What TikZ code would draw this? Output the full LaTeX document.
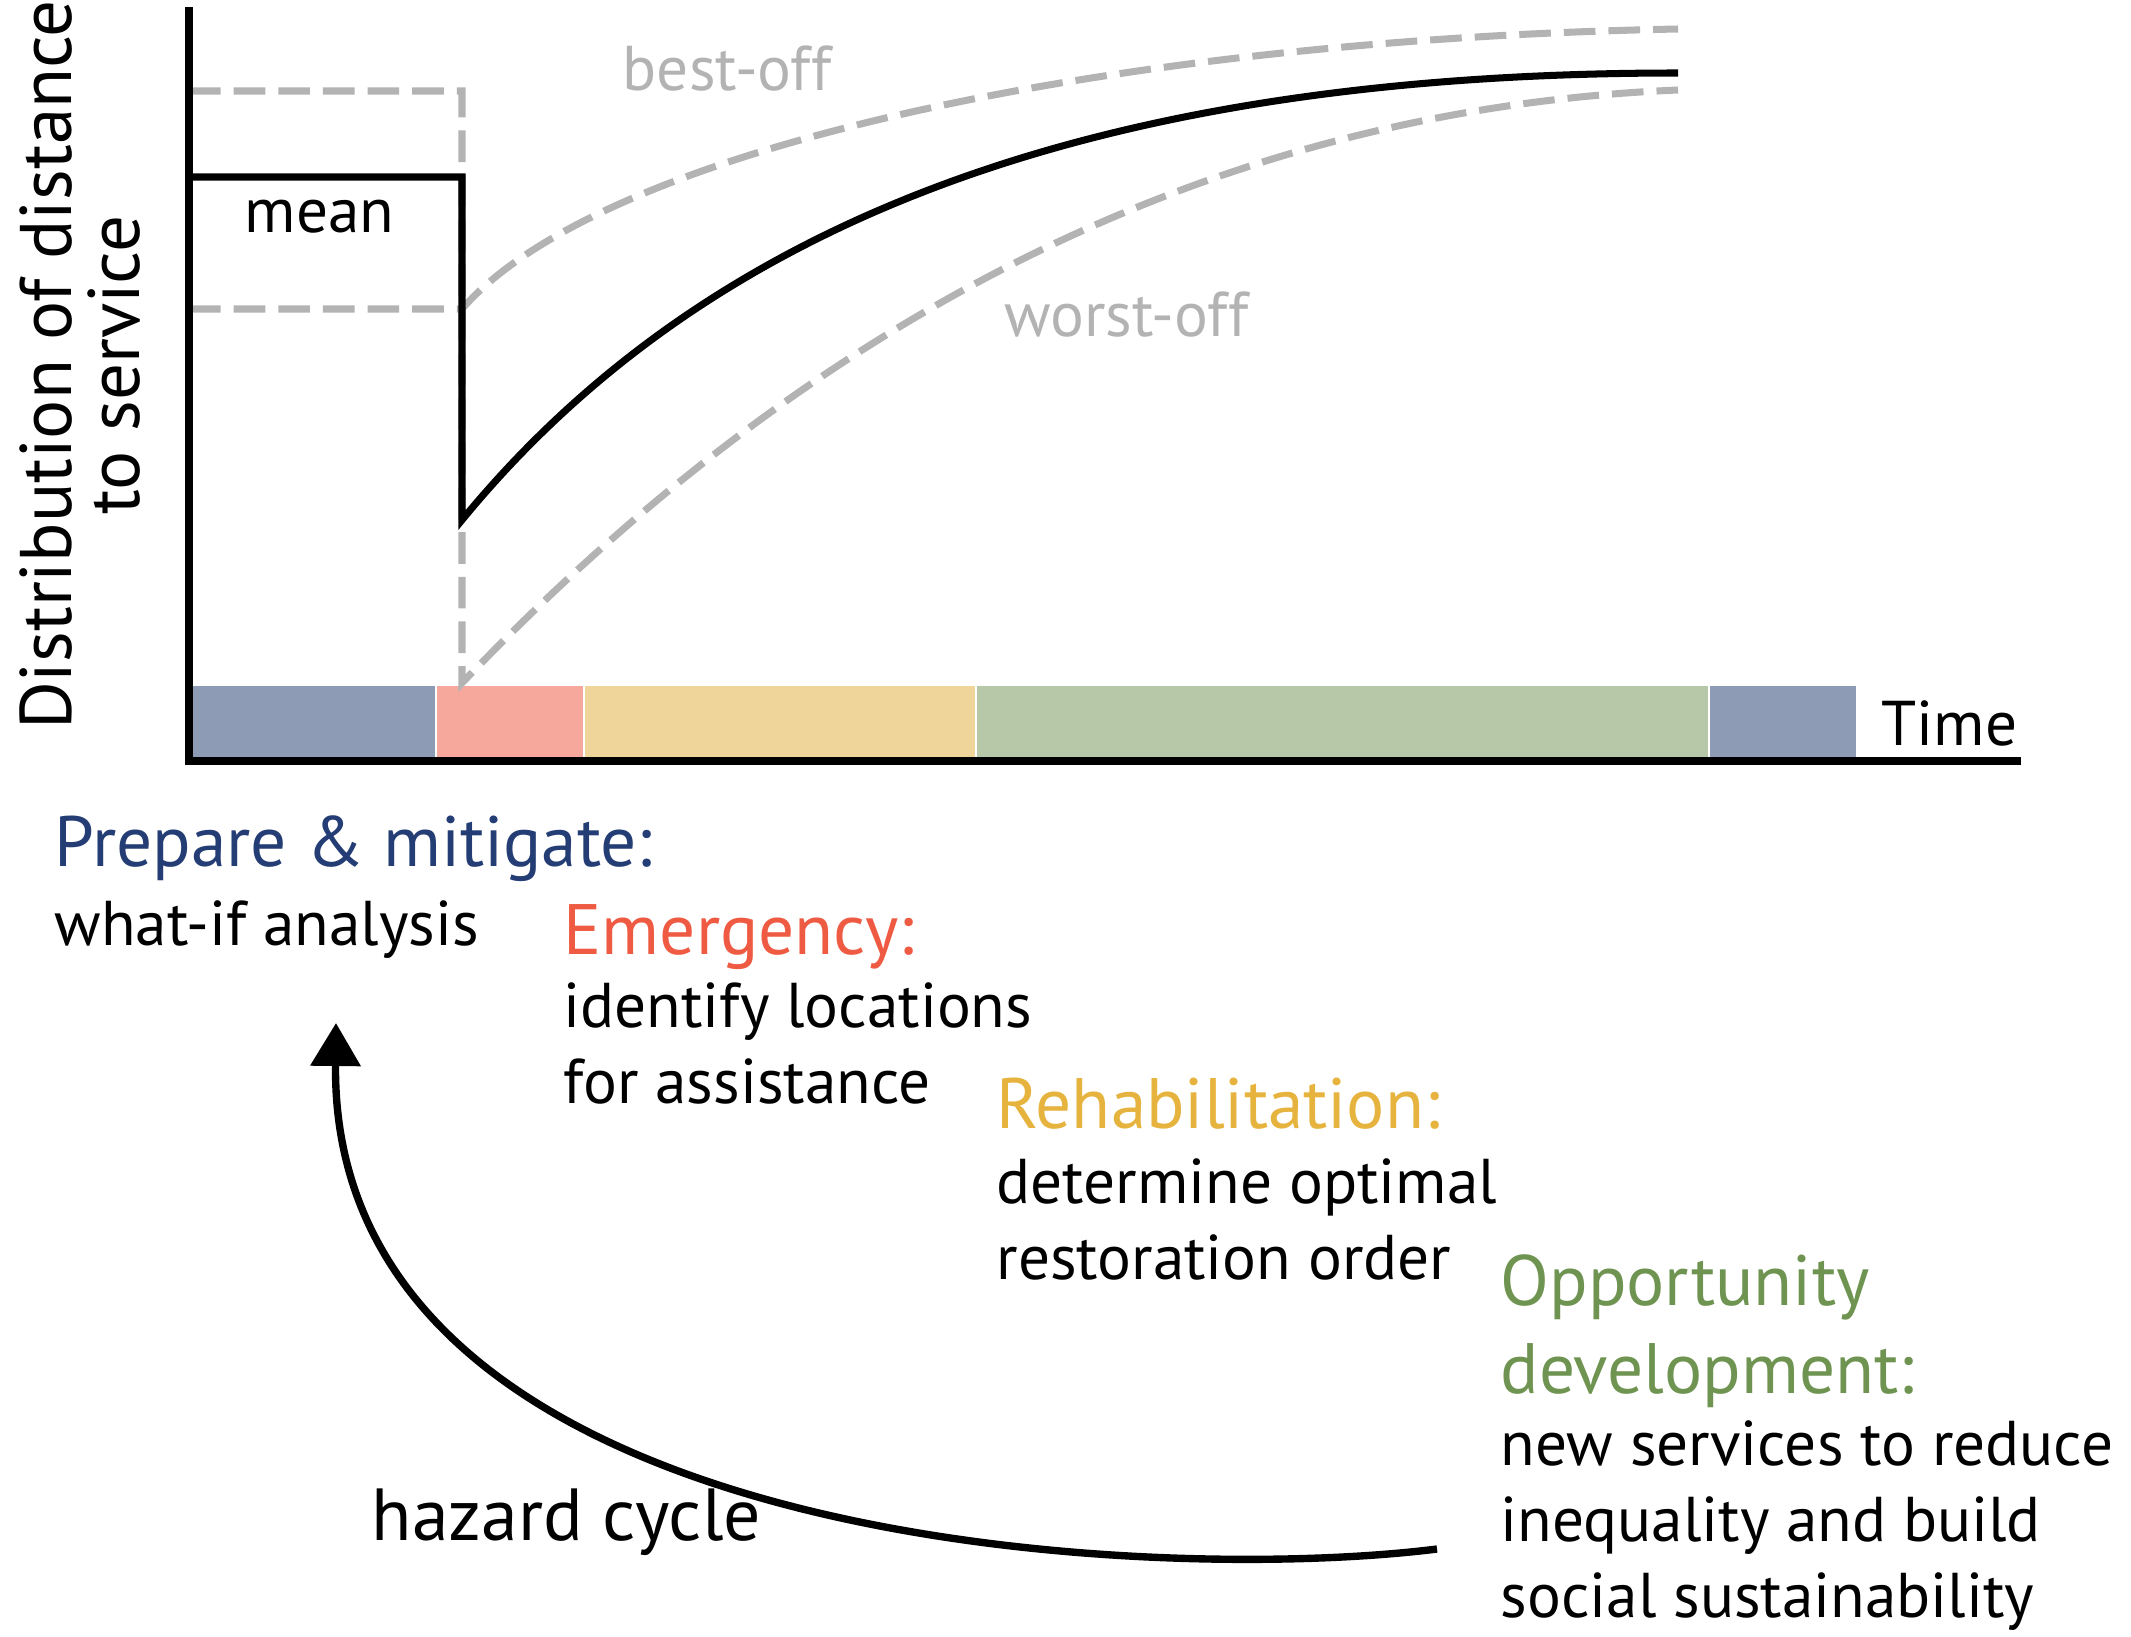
\documentclass[tikz,border=0pt]{standalone}
\usepackage{fontspec}
\setmainfont{PT Sans}
\usetikzlibrary{arrows.meta,positioning}
\definecolor{phblue}{HTML}{8E9BB5}
\definecolor{phpink}{HTML}{F5A89B}
\definecolor{phyellow}{HTML}{F0D59B}
\definecolor{phgreen}{HTML}{B7C8A8}
\definecolor{distgray}{HTML}{B3B3B3}
\definecolor{prepblue}{HTML}{243D74}
\definecolor{emergred}{HTML}{EF5A43}
\definecolor{rehabyellow}{HTML}{E6B43E}
\definecolor{oppgreen}{HTML}{6F9452}

\begin{document}
\begin{tikzpicture}[
  ax/.style={line width=2pt},
  spread/.style={draw=distgray, line width=2pt, dash pattern=on 9pt off 3.7pt},
  phase/.style={draw=white, line width=0.5pt},
  hdr/.style={anchor=base west, inner sep=0pt, align=left, font=\fontsize{20.3}{25}\selectfont},
  body/.style={anchor=base west, inner sep=0pt, align=left, font=\fontsize{18}{21.5}\selectfont},
  lbl/.style={anchor=base west, inner sep=0pt, font=\fontsize{18}{21.5}\selectfont}
]
\useasboundingbox (-1.89,-8.75) rectangle (19.42,7.61);

% phases along the time axis
\filldraw[phase, fill=phblue] (0,0) rectangle (2.47,0.76);
\filldraw[phase, fill=phpink] (2.47,0) rectangle (3.95,0.76);
\filldraw[phase, fill=phyellow] (3.95,0) rectangle (7.87,0.76);
\filldraw[phase, fill=phgreen] (7.87,0) rectangle (15.20,0.76);
\filldraw[phase, fill=phblue] (15.20,0) rectangle (16.68,0.76);

% spread of distances
\draw[spread] (0,6.70) -- (2.73,6.70) -- (2.73,0.78)
  .. controls (6.11,4.31) and (10.11,6.51) .. (14.89,6.71);
\draw[spread] (0,4.52) -- (2.73,4.52)
  .. controls (4.11,6.11) and (9.11,7.21) .. (14.89,7.32);

% mean
\draw[ax] (0,5.84) -- (2.73,5.84) -- (2.73,2.41)
  .. controls (5.11,5.31) and (8.89,6.88) .. (14.89,6.88);

% axes
\draw[ax] (0,7.54) -- (0,0) -- (18.32,0);

\node[lbl] (mean) at (0.55,5.29) {mean};
\node[lbl, text=distgray] (best) at (4.33,6.70) {best-off};
\node[lbl, text=distgray] (worst) at (8.15,4.25) {worst-off};
\node[lbl] (time) at (16.92,0.16) {Time};
\node[rotate=90, align=center, font=\fontsize{20.8}{19.5}\selectfont] (ylab) at (-1.09,3.96)
  {Distribution of distance\\to service};

% phase descriptions (base = last line)
\node[hdr, text=prepblue] (prep) at (-1.35,-1.05) {Prepare \& mitigate:};
\node[body] (prepbody) at (-1.35,-1.84) {what-if analysis};
\node[hdr, text=emergred] (emerg) at (3.74,-1.93) {Emergency:};
\node[body] (emergbody) at (3.74,-3.42) {identify locations\\for assistance};
\node[hdr, text=rehabyellow] (rehab) at (8.07,-3.67) {Rehabilitation:};
\node[body] (rehabbody) at (8.07,-5.18) {determine optimal\\restoration order};
\node[hdr, text=oppgreen] (opp) at (13.11,-6.32) {Opportunity\\development:};
\node[body] (oppbody) at (13.11,-8.56) {new services to reduce\\inequality and build\\social sustainability};

% hazard cycle
\node[lbl, font=\fontsize{21}{25}\selectfont] (cycle) at (1.82,-7.79) {hazard cycle};
\coordinate (cycstart) at (12.48,-7.88);
\coordinate (cyctip) at (1.47,-2.62);
\draw[line width=2.1pt, -{Triangle[width=0.49cm, length=0.43cm]}] (cycstart)
  .. controls (9.61,-8.24) and (1.41,-7.89) .. (cyctip);
\end{tikzpicture}
\end{document}
